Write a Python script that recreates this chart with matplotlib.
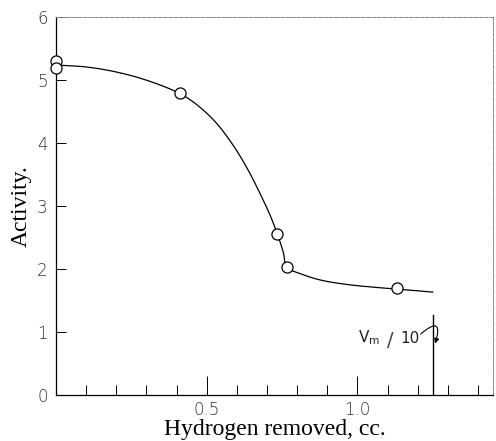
import numpy as np
from matplotlib import pyplot as plt

# measured points (hydrogen removed in cc, activity)
pts_x = [0.0, 0.0, 0.41, 0.734, 0.766, 1.13]
pts_y = [5.30, 5.20, 4.79, 2.56, 2.03, 1.70]

# hand drawn curve
curve_x = [0.0, 0.10, 0.20, 0.30, 0.41, 0.47, 0.53, 0.59, 0.64, 0.68, 0.71,
           0.734, 0.754, 0.766, 0.81, 0.875, 0.96, 1.05, 1.13, 1.25]
curve_y = [5.24, 5.21, 5.13, 5.00, 4.79, 4.60, 4.33, 3.95, 3.55, 3.17, 2.86,
           2.56, 2.27, 2.03, 1.93, 1.83, 1.76, 1.715, 1.685, 1.635]

vm_x = 1.25
vm_top = 1.27

y_ticks = [0, 1, 2, 3, 4, 5, 6]
x_ticks = [0.5, 1.0]
x_tick_labels = ["0.5", "1.0"]


def smooth(xs, ys, n=16, sx=300.0, sy=63.0):
    # centripetal catmull-rom through the read points (in screen-ish units)
    P = np.column_stack([np.array(xs) * sx, np.array(ys) * sy])
    P = np.vstack([2 * P[0] - P[1], P, 2 * P[-1] - P[-2]])
    out = []
    for i in range(1, len(P) - 2):
        p0, p1, p2, p3 = P[i - 1], P[i], P[i + 1], P[i + 2]
        t0 = 0.0
        t1 = t0 + np.linalg.norm(p1 - p0) ** 0.5
        t2 = t1 + np.linalg.norm(p2 - p1) ** 0.5
        t3 = t2 + np.linalg.norm(p3 - p2) ** 0.5
        t = np.linspace(t1, t2, n, endpoint=False)[:, None]
        a1 = (t1 - t) / (t1 - t0) * p0 + (t - t0) / (t1 - t0) * p1
        a2 = (t2 - t) / (t2 - t1) * p1 + (t - t1) / (t2 - t1) * p2
        a3 = (t3 - t) / (t3 - t2) * p2 + (t - t2) / (t3 - t2) * p3
        b1 = (t2 - t) / (t2 - t0) * a1 + (t - t0) / (t2 - t0) * a2
        b2 = (t3 - t) / (t3 - t1) * a2 + (t - t1) / (t3 - t1) * a3
        c = (t2 - t) / (t2 - t1) * b1 + (t - t1) / (t2 - t1) * b2
        out.append(c)
    out.append(P[-2][None, :])
    out = np.vstack(out)
    return out[:, 0] / sx, out[:, 1] / sy


fig = plt.figure(figsize=(4.96, 4.41), dpi=100)
ax = fig.add_axes([0.113, 0.104, 0.881, 0.857])

cx, cy = smooth(curve_x, curve_y)
ax.plot(cx, cy, color='black', lw=0.9)
ax.plot(pts_x, pts_y, 'o', ms=8, mfc='white', mec='black', mew=0.9, clip_on=False, zorder=3)

ax.plot([vm_x, vm_x], [0, vm_top], color='black', lw=1.0)
ax.text(1.04, 0.92, r"V$_{\rm m}$", fontsize=11, ha='center', va='center', color='#222222')
ax.text(1.11, 0.87, "/", fontsize=14, ha='center', va='center', color='#444444')
ax.text(1.175, 0.90, "10", fontsize=11, ha='center', va='center', color='#222222')
ax.annotate("", xy=(1.258, 0.82), xytext=(1.21, 0.97),
            arrowprops=dict(arrowstyle='-|>', color='black', lw=0.8,
                            mutation_scale=7, shrinkA=0, shrinkB=0,
                            connectionstyle="arc3,rad=-1.7"))

ax.set_xlim(0, 1.45)
ax.set_ylim(0, 6)

ax.set_yticks(y_ticks)
ax.set_xticks(x_ticks)
ax.set_xticklabels(x_tick_labels)
ax.set_xticks(np.arange(0.1, 1.45, 0.1), minor=True)
ax.tick_params(axis='y', direction='in', length=7, width=0.7, labelsize=12, pad=6)
ax.tick_params(axis='x', which='major', direction='in', length=14, width=0.7, labelsize=12, pad=4)
ax.tick_params(axis='x', which='minor', direction='in', length=7, width=0.7)
for lab in ax.get_xticklabels() + ax.get_yticklabels():
    lab.set_color('#333333')
    lab.set_fontweight('light')

for side in ['top', 'right']:
    ax.spines[side].set_color('#888888')
    ax.spines[side].set_linestyle((0, (4, 1.5)))
    ax.spines[side].set_linewidth(0.7)
for side in ['left', 'bottom']:
    ax.spines[side].set_linewidth(0.9)

ax.set_xlabel("Hydrogen removed, cc.", family='Liberation Serif', fontsize=17, labelpad=0)
ax.set_ylabel("Activity.", family='Liberation Serif', fontsize=17, labelpad=4)

plt.savefig("out.png", dpi=100)
